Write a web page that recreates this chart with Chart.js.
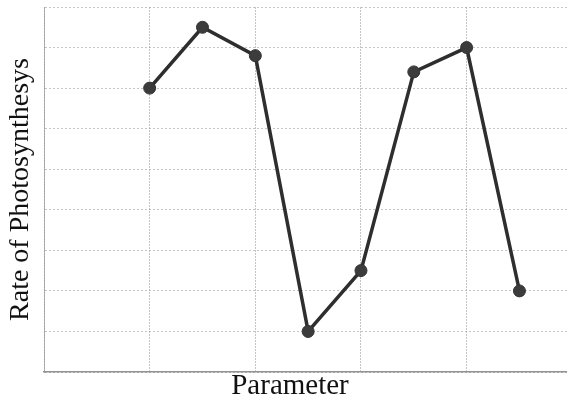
<!DOCTYPE html>
<html>
<head>
<meta charset="utf-8">
<script src="https://cdn.jsdelivr.net/npm/chart.js@4"></script>
<style>
    html, body { margin: 0; padding: 0; background: #fff; }
    #wrap { width: 567px; height: 400px; }
</style>
</head>
<body>
<div id="wrap"><canvas id="photoChart"></canvas></div>
<script>
// positions along the parameter axis and the rate
const paramPositions = [2, 3, 4, 5, 6, 7, 8, 9];
const rateValues = [7, 8.5, 7.8, 1, 2.5, 7.4, 8, 2];
const xTitle = 'Parameter';
const yTitle = 'Rate of Photosynthesys';

const gridColor = 'rgba(150, 150, 150, 0.55)';
const lineColor = '#2e2e2e';
const titleFont = '29px "Liberation Serif"';

// x title sits a little left of the plot centre in the original (plot is cut off at the right)
const xTitlePlugin = {
    id: 'xTitle',
    afterDraw: function (chart) {
        const c = chart.ctx;
        c.save();
        c.font = titleFont;
        c.fillStyle = '#111';
        c.textAlign = 'center';
        c.textBaseline = 'middle';
        c.fillText(xTitle, chart.chartArea.left + 246, chart.chartArea.bottom + 14);
        c.restore();
    }
};

document.addEventListener('DOMContentLoaded', function () {
    const ctx = document.getElementById('photoChart');
    const points = paramPositions.map(function (x, i) {
        return { x: x, y: rateValues[i] };
    });

    new Chart(ctx, {
        type: 'line',
        data: {
            datasets: [{
                label: yTitle,
                data: points,
                borderColor: lineColor,
                borderWidth: 3.5,
                backgroundColor: '#3c3c3c',
                pointBackgroundColor: '#3c3c3c',
                pointBorderColor: '#333',
                pointBorderWidth: 1,
                pointRadius: 6,
                tension: 0
            }]
        },
        plugins: [xTitlePlugin],
        options: {
            responsive: true,
            maintainAspectRatio: false,
            animation: false,
            layout: { autoPadding: false, padding: { top: 7, left: 0, right: 0, bottom: 28 } },
            plugins: {
                legend: { display: false },
                tooltip: { enabled: false }
            },
            scales: {
                x: {
                    type: 'linear',
                    min: 0,
                    max: 9.9,
                    afterBuildTicks: function (scale) {
                        scale.ticks = scale.ticks.filter(function (t) { return t.value % 2 === 0; });
                    },
                    ticks: { display: false, stepSize: 2 },
                    grid: { color: gridColor, borderDash: [2, 2], drawTicks: false, lineWidth: 1 },
                    border: { display: true, color: 'rgba(120,120,120,0.8)', dash: [2, 1], width: 1.5 }
                },
                y: {
                    min: 0,
                    max: 9,
                    ticks: { display: false, stepSize: 1 },
                    grid: { color: gridColor, borderDash: [2, 2], drawTicks: false, lineWidth: 1 },
                    border: { display: true, color: 'rgba(150,150,150,0.7)', dash: [2, 2] },
                    title: {
                        display: true,
                        text: yTitle,
                        color: '#111',
                        font: { family: 'Liberation Serif', size: 28, lineHeight: 1 },
                        padding: { top: 7, bottom: 9 }
                    }
                }
            }
        }
    });
});
</script>
</body>
</html>
